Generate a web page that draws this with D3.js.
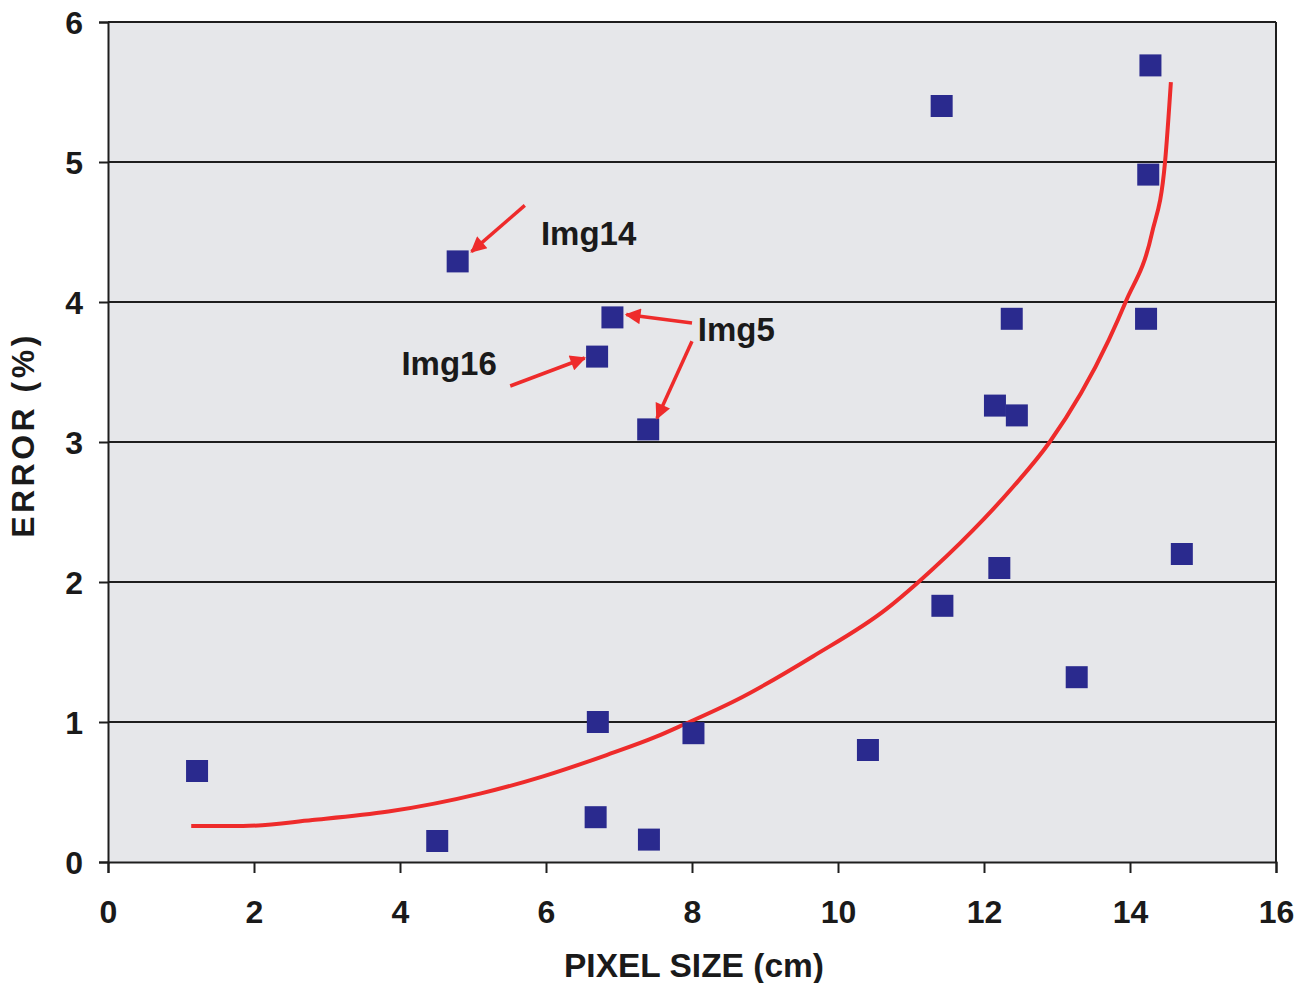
<!DOCTYPE html>
<html>
<head>
<meta charset="utf-8">
<script src="https://cdn.jsdelivr.net/npm/d3@7"></script>
<style>
  body { margin: 0; background: #fff; }
  svg text { font-family: "Liberation Sans", Arial, sans-serif; font-weight: bold; fill: #1a1a1a; }
</style>
</head>
<body>
<svg id="chart" width="1306" height="983"></svg>
<script>
// 数据点 (pixel size, error)
const pixelSize = [1.22, 4.51, 4.79, 6.71, 6.68, 6.70, 6.91, 7.40, 7.41, 8.02, 10.41,
    11.42, 11.43, 12.15, 12.45, 12.21, 12.38, 13.27, 14.28, 14.25, 14.22, 14.71];
const errorPct = [0.65, 0.15, 4.29, 1.00, 0.32, 3.61, 3.89, 3.09, 0.16, 0.92, 0.80,
    5.40, 1.83, 3.26, 3.19, 2.10, 3.88, 1.32, 5.69, 4.91, 3.88, 2.20];

// 趋势线
const curveX = [1.14, 1.85, 2.80, 3.84, 5.11, 5.95, 6.83, 7.51, 7.88, 8.61, 9.66, 10.67,
    11.08, 11.85, 12.40, 12.90, 13.71, 13.94, 14.30, 14.48, 14.56];
const curveY = [0.257, 0.257, 0.30, 0.36, 0.49, 0.61, 0.764, 0.895, 0.98, 1.157, 1.47, 1.81,
    1.99, 2.37, 2.68, 3.00, 3.73, 4.00, 4.49, 5.00, 5.57];

const xTicks = [0, 2, 4, 6, 8, 10, 12, 14, 16];
const yTicks = [0, 1, 2, 3, 4, 5, 6];

// 标注
const labels = [
    { text: "Img14", x: 5.93, y: 4.41 },
    { text: "Img5", x: 8.08, y: 3.72 },
    { text: "Img16", x: 4.02, y: 3.48 }
];
const arrows = [
    { x1: 5.71, y1: 4.69, x2: 4.98, y2: 4.36 },
    { x1: 8.00, y1: 3.85, x2: 7.10, y2: 3.91 },
    { x1: 8.00, y1: 3.72, x2: 7.52, y2: 3.17 },
    { x1: 5.51, y1: 3.40, x2: 6.53, y2: 3.60 }
];

const margin = { left: 108, right: 30, top: 22, bottom: 121 };
const width = 1306, height = 983;

const svg = d3.select("#chart");

const x = d3.scaleLinear().domain([0, 16]).range([margin.left, 1276]);
const y = d3.scaleLinear().domain([0, 6]).range([height - margin.bottom, margin.top]);

// 背景
svg.append("rect")
    .attr("x", x(0)).attr("y", y(6))
    .attr("width", x(16) - x(0)).attr("height", y(0) - y(6))
    .attr("fill", "#e6e7ea");

// 网格线
svg.append("g")
    .selectAll("line")
    .data(yTicks.filter(d => d > 0))
    .enter()
    .append("line")
    .attr("x1", x(0)).attr("x2", x(16))
    .attr("y1", d => y(d)).attr("y2", d => y(d))
    .attr("stroke", "#1e1e1e")
    .attr("stroke-width", 2);

// 右边框
svg.append("line")
    .attr("x1", x(16)).attr("x2", x(16))
    .attr("y1", y(6)).attr("y2", y(0))
    .attr("stroke", "#1e1e1e").attr("stroke-width", 2);

// 坐标轴
const xAxis = svg.append("g")
    .attr("transform", `translate(0,${y(0)})`)
    .call(d3.axisBottom(x).tickValues(xTicks).tickSize(11).tickPadding(27).tickFormat(d3.format("d")));
const yAxis = svg.append("g")
    .attr("transform", `translate(${x(0)},0)`)
    .call(d3.axisLeft(y).tickValues(yTicks).tickSize(9).tickPadding(16).tickFormat(d3.format("d")));

[xAxis, yAxis].forEach(a => {
    a.select(".domain").attr("stroke", "#1e1e1e").attr("stroke-width", 2);
    a.selectAll(".tick line").attr("stroke", "#1e1e1e").attr("stroke-width", 2);
    a.selectAll(".tick text")
        .attr("font-size", 32)
        .attr("font-family", "Liberation Sans, Arial, sans-serif")
        .attr("font-weight", "bold")
        .attr("fill", "#1a1a1a");
});
yAxis.selectAll(".tick text").attr("dy", "0.36em");

// 趋势线
const curveData = curveX.map((d, i) => [d, curveY[i]]);
svg.append("path")
    .datum(curveData)
    .attr("fill", "none")
    .attr("stroke", "#ee2b2b")
    .attr("stroke-width", 4)
    .attr("d", d3.line().x(d => x(d[0])).y(d => y(d[1])).curve(d3.curveMonotoneX));

// 数据点
const size = 22;
svg.append("g")
    .selectAll("rect")
    .data(pixelSize.map((d, i) => [d, errorPct[i]]))
    .enter()
    .append("rect")
    .attr("x", d => x(d[0]) - size / 2)
    .attr("y", d => y(d[1]) - size / 2)
    .attr("width", size).attr("height", size)
    .attr("fill", "#2a2a8e");

// 箭头
svg.append("defs").append("marker")
    .attr("id", "arrow")
    .attr("viewBox", "0 0 10 10")
    .attr("refX", 9).attr("refY", 5)
    .attr("markerWidth", 5).attr("markerHeight", 4.5)
    .attr("markerUnits", "strokeWidth")
    .attr("orient", "auto")
    .append("path")
    .attr("d", "M0,0 L10,5 L0,10 Z")
    .attr("fill", "#ee2b2b");

svg.append("g")
    .selectAll("line")
    .data(arrows)
    .enter()
    .append("line")
    .attr("x1", d => x(d.x1)).attr("y1", d => y(d.y1))
    .attr("x2", d => x(d.x2)).attr("y2", d => y(d.y2))
    .attr("stroke", "#ee2b2b")
    .attr("stroke-width", 3.5)
    .attr("marker-end", "url(#arrow)");

svg.append("g")
    .selectAll("text")
    .data(labels)
    .enter()
    .append("text")
    .attr("x", d => x(d.x)).attr("y", d => y(d.y))
    .attr("font-size", 33)
    .text(d => d.text);

// 轴标题
svg.append("text")
    .attr("x", (x(0) + x(16)) / 2 + 2)
    .attr("y", 977)
    .attr("text-anchor", "middle")
    .attr("font-size", 33.5)
    .text("PIXEL SIZE (cm)");

svg.append("text")
    .attr("transform", `translate(34,435) rotate(-90)`)
    .attr("text-anchor", "middle")
    .attr("font-size", 32)
    .attr("letter-spacing", 3.5)
    .text("ERROR (%)");
</script>
</body>
</html>
